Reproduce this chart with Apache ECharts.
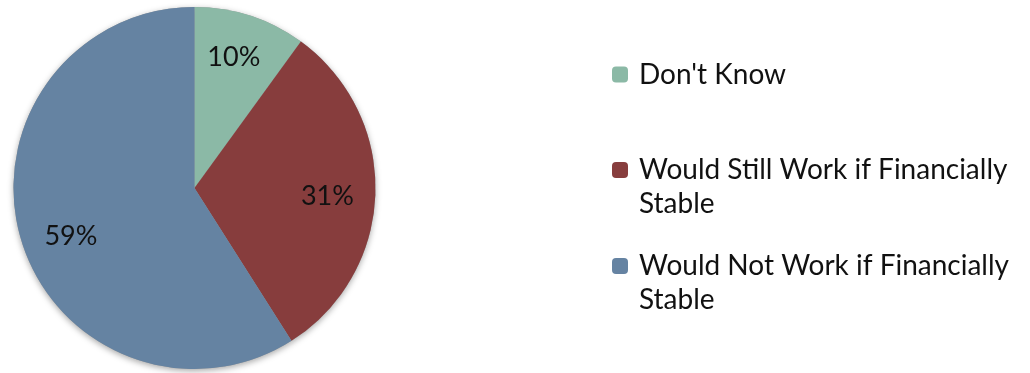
<!DOCTYPE html>
<html>
<head>
<meta charset="utf-8">
<script src="https://cdn.jsdelivr.net/npm/echarts@6/dist/echarts.min.js"></script>
<style>
  html, body { margin: 0; padding: 0; background: #fff; }
  #main { width: 1030px; height: 373px; }
</style>
</head>
<body>
<div id="main"></div>
<script>
// survey answers, percent of respondents
var categories = ["Don't Know", 'Would Still Work if Financially Stable', 'Would Not Work if Financially Stable'];
var percents = [10, 31, 59];
var colors = ['#8BB9A6', '#873D3D', '#6583A2'];

var FONT = 'Lato';
var center = [194.5, 188];

var pieData = categories.map(function (name, i) {
    return { name: name, value: percents[i], itemStyle: { color: colors[i] } };
});

// one legend per item so the icon lines up with the first text line
var legendTops = [57.5, 119, 215];
var legends = categories.map(function (name, i) {
    var multi = i > 0;
    return {
        orient: 'vertical',
        left: 612,
        top: legendTops[i],
        padding: 0,
        itemWidth: 16,
        itemHeight: 16,
        selectedMode: false,
        data: [name],
        // empty first line keeps the real first line centred on the icon
        formatter: function (n) { return multi ? '\n' + n : n; },
        textStyle: {
            fontFamily: FONT,
            fontSize: 28,
            color: '#111',
            lineHeight: 34,
            width: 385,
            overflow: 'break',
            padding: [0, 0, 0, 6]
        }
    };
});

var myChart = echarts.init(document.getElementById('main'), null, { renderer: 'canvas' });
var option = {
    backgroundColor: '#fff',
    animation: false,
    legend: legends,
    series: [
        {
            // the coloured pie
            type: 'pie',
            center: center,
            radius: 181,
            startAngle: 90,
            clockwise: true,
            silent: true,
            z: 3,
            label: { show: false },
            labelLine: { show: false },
            itemStyle: { borderWidth: 0 },
            data: pieData
        },
        {
            // transparent ring only to place the percent labels further out
            type: 'pie',
            center: center,
            radius: [87, 181],
            startAngle: 90,
            clockwise: true,
            silent: true,
            z: 4,
            itemStyle: { color: 'rgba(0,0,0,0)', borderWidth: 0 },
            label: {
                show: true,
                position: 'inside',
                formatter: '{c}%',
                fontFamily: FONT,
                fontSize: 27,
                color: '#111'
            },
            labelLayout: function (p) {
                var nudge = [[-3, 0], [-4, 4], [8, 10]][p.dataIndex];
                return { dx: nudge[0], dy: nudge[1] };
            },
            labelLine: { show: false },
            data: categories.map(function (name, i) { return { name: name, value: percents[i] }; })
        },
        {
            // soft drop shadow under the pie
            type: 'pie',
            center: center,
            radius: 181,
            startAngle: 90,
            silent: true,
            z: 1,
            label: { show: false },
            labelLine: { show: false },
            itemStyle: {
                color: '#999',
                shadowBlur: 6,
                shadowColor: 'rgba(0,0,0,0.35)',
                shadowOffsetY: 2
            },
            data: categories.map(function (name, i) { return { name: name, value: percents[i] }; })
        }
    ]
};
myChart.setOption(option);
</script>
</body>
</html>
